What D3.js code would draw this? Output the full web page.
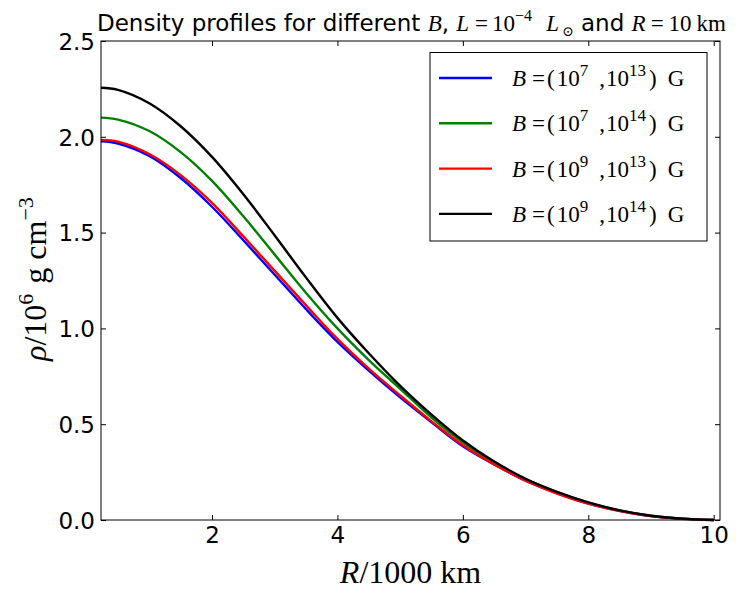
<!DOCTYPE html>
<html>
<head>
<meta charset="utf-8">
<script src="https://cdn.jsdelivr.net/npm/d3@7"></script>
<style>
  body { margin: 0; background: #fff; }
  svg { display: block; }
  .tick text { font-family: "DejaVu Sans", sans-serif; font-size: 23px; }
  .serif { font-family: "Liberation Serif", "DejaVu Serif", serif; }
</style>
</head>
<body>
<svg width="737" height="602"></svg>
<script>
const svg = d3.select("svg");
const width = +svg.attr("width");
const height = +svg.attr("height");

// radius in units of 1000 km
const radius = [0.23, 0.5, 1.0, 1.5, 2.0, 2.5, 3.0, 3.5, 4.0, 4.5, 5.0, 5.5, 6.0, 6.5, 7.0, 7.5, 8.0, 8.5, 9.0, 9.5, 10.0];

// density / 1e6 g cm^-3
const rhoB7_13 = [1.977, 1.965, 1.90, 1.785, 1.635, 1.46, 1.28, 1.10, 0.93, 0.78, 0.64, 0.51, 0.385, 0.29, 0.205, 0.14, 0.085, 0.048, 0.02, 0.006, 0.0];
const rhoB7_14 = [2.10, 2.09, 2.03, 1.92, 1.77, 1.585, 1.385, 1.185, 1.00, 0.835, 0.685, 0.535, 0.405, 0.30, 0.213, 0.145, 0.09, 0.05, 0.022, 0.007, 0.0];
const rhoB9_13 = [1.984, 1.975, 1.91, 1.80, 1.655, 1.48, 1.30, 1.12, 0.945, 0.79, 0.65, 0.515, 0.39, 0.29, 0.205, 0.138, 0.085, 0.047, 0.02, 0.006, 0.0];
const rhoB9_14 = [2.256, 2.245, 2.175, 2.055, 1.895, 1.70, 1.485, 1.265, 1.055, 0.87, 0.70, 0.55, 0.415, 0.305, 0.215, 0.147, 0.092, 0.05, 0.022, 0.007, 0.0];

const seriesNames = [["7", "13"], ["7", "14"], ["9", "13"], ["9", "14"]];
const seriesColors = ["#0000ff", "#008000", "#ff0000", "#000000"];
const seriesValues = [rhoB7_13, rhoB7_14, rhoB9_13, rhoB9_14];

const xTicks = [2, 4, 6, 8, 10];
const yTicks = [0.0, 0.5, 1.0, 1.5, 2.0, 2.5];

const margin = {top: 41, right: 17, bottom: 82, left: 101};
const iw = width - margin.left - margin.right;
const ih = height - margin.top - margin.bottom;

const x = d3.scaleLinear().domain([0.23, 10.1]).range([0, iw]);
const y = d3.scaleLinear().domain([0, 2.5]).range([ih, 0]);

const g = svg.append("g").attr("transform", `translate(${margin.left},${margin.top})`);

const line = d3.line()
    .x(d => x(d[0]))
    .y(d => y(d[1]))
    .curve(d3.curveCatmullRom.alpha(0.5));

g.append("g").selectAll("path")
    .data(seriesValues)
    .join("path")
    .attr("d", vals => line(radius.map((r, i) => [r, vals[i]])))
    .attr("fill", "none")
    .attr("stroke", (d, i) => seriesColors[i])
    .attr("stroke-width", 2.4);

// axes with inward ticks on all sides
const tickLen = 5;
const axB = g.append("g").attr("transform", `translate(0,${ih})`)
    .call(d3.axisBottom(x).tickValues(xTicks).tickFormat(d3.format("d")).tickSizeInner(-tickLen).tickSizeOuter(0).tickPadding(7));
const axT = g.append("g")
    .call(d3.axisTop(x).tickValues(xTicks).tickFormat("").tickSizeInner(-tickLen).tickSizeOuter(0));
const axL = g.append("g")
    .call(d3.axisLeft(y).tickValues(yTicks).tickFormat(d3.format(".1f")).tickSizeInner(-tickLen).tickSizeOuter(0).tickPadding(6));
const axR = g.append("g").attr("transform", `translate(${iw},0)`)
    .call(d3.axisRight(y).tickValues(yTicks).tickFormat("").tickSizeInner(-tickLen).tickSizeOuter(0));
[axB, axT, axL, axR].forEach(a => {
  a.select(".domain").remove();
  a.selectAll("line").attr("stroke", "#000");
  a.selectAll("text").attr("fill", "#000");
});
axL.selectAll("text").attr("dy", "0.36em");

g.append("rect")
    .attr("width", iw).attr("height", ih)
    .attr("fill", "none").attr("stroke", "#000").attr("stroke-width", 1);

// title (sans text mixed with serif math)
const title = svg.append("text")
    .attr("x", 97).attr("y", 31)
    .attr("font-size", 23)
    .attr("font-family", "DejaVu Sans, sans-serif");
const mathSpan = (sel, txt, opts = {}) => {
  const t = sel.append("tspan").attr("class", "serif").attr("font-size", opts.size || 23).text(txt);
  if (opts.italic) t.attr("font-style", "italic");
  if (opts.dx) t.attr("dx", opts.dx);
  if (opts.dy) t.attr("dy", opts.dy);
  return t;
};
title.append("tspan").text("Density profiles for different ");
mathSpan(title, "B", {italic: true});
title.append("tspan").text(", ");
mathSpan(title, "L", {italic: true});
mathSpan(title, "=", {dx: 6});
mathSpan(title, "10", {dx: 4});
mathSpan(title, "−4", {size: 16, dy: -10});
mathSpan(title, "L", {italic: true, dx: 14, dy: 10});
mathSpan(title, "⊙", {size: 14, dy: 5, dx: 3});
title.append("tspan").attr("dy", -5).text(" and ");
mathSpan(title, "R", {italic: true});
mathSpan(title, "=", {dx: 5});
mathSpan(title, "10", {dx: 5});
mathSpan(title, "km", {dx: 5});

// axis labels
const xl = svg.append("text")
    .attr("class", "serif")
    .attr("x", margin.left + iw / 2).attr("y", 583)
    .attr("text-anchor", "middle")
    .attr("font-size", 32);
xl.append("tspan").attr("font-style", "italic").text("R");
xl.append("tspan").text("/1000");
xl.append("tspan").attr("dx", 8).text("km");

const yl = svg.append("text")
    .attr("class", "serif")
    .attr("transform", `translate(46,279) rotate(-90)`)
    .attr("text-anchor", "middle")
    .attr("font-size", 32);
yl.append("tspan").attr("font-style", "italic").text("ρ");
yl.append("tspan").text("/10");
yl.append("tspan").attr("font-size", 22).attr("dy", -13).text("6");
yl.append("tspan").attr("dy", 13).attr("dx", 10).text("g");
yl.append("tspan").attr("dx", 8).text("cm");
yl.append("tspan").attr("font-size", 22).attr("dy", -13).text("−3");

// legend
const lg = svg.append("g").attr("transform", "translate(430,52.5)");
lg.append("rect")
    .attr("width", 277).attr("height", 188.5)
    .attr("fill", "#fff").attr("stroke", "#000").attr("stroke-width", 1);
const rows = lg.selectAll("g.row")
    .data(seriesNames)
    .join("g")
    .attr("class", "row")
    .attr("transform", (d, i) => `translate(0,${25.5 + i * 45.3})`);
rows.append("line")
    .attr("x1", 9).attr("x2", 62)
    .attr("stroke", (d, i) => seriesColors[i])
    .attr("stroke-width", 2.4);
const lt = rows.append("text")
    .attr("class", "serif")
    .attr("x", 82).attr("y", 8)
    .attr("font-size", 23);
lt.append("tspan").attr("font-style", "italic").text("B");
lt.append("tspan").attr("dx", 6).text("=");
lt.append("tspan").attr("dx", 2).text("(");
lt.append("tspan").attr("dx", 2).text("10");
lt.append("tspan").attr("font-size", 17).attr("dy", -10).text(d => d[0]);
lt.append("tspan").attr("dy", 10).attr("dx", 11).text(",");
lt.append("tspan").attr("dx", 1).text("10");
lt.append("tspan").attr("font-size", 17).attr("dy", -10).text(d => d[1]);
lt.append("tspan").attr("dy", 10).attr("dx", 3).text(")");
lt.append("tspan").attr("dx", 11).text("G");
</script>
</body>
</html>
